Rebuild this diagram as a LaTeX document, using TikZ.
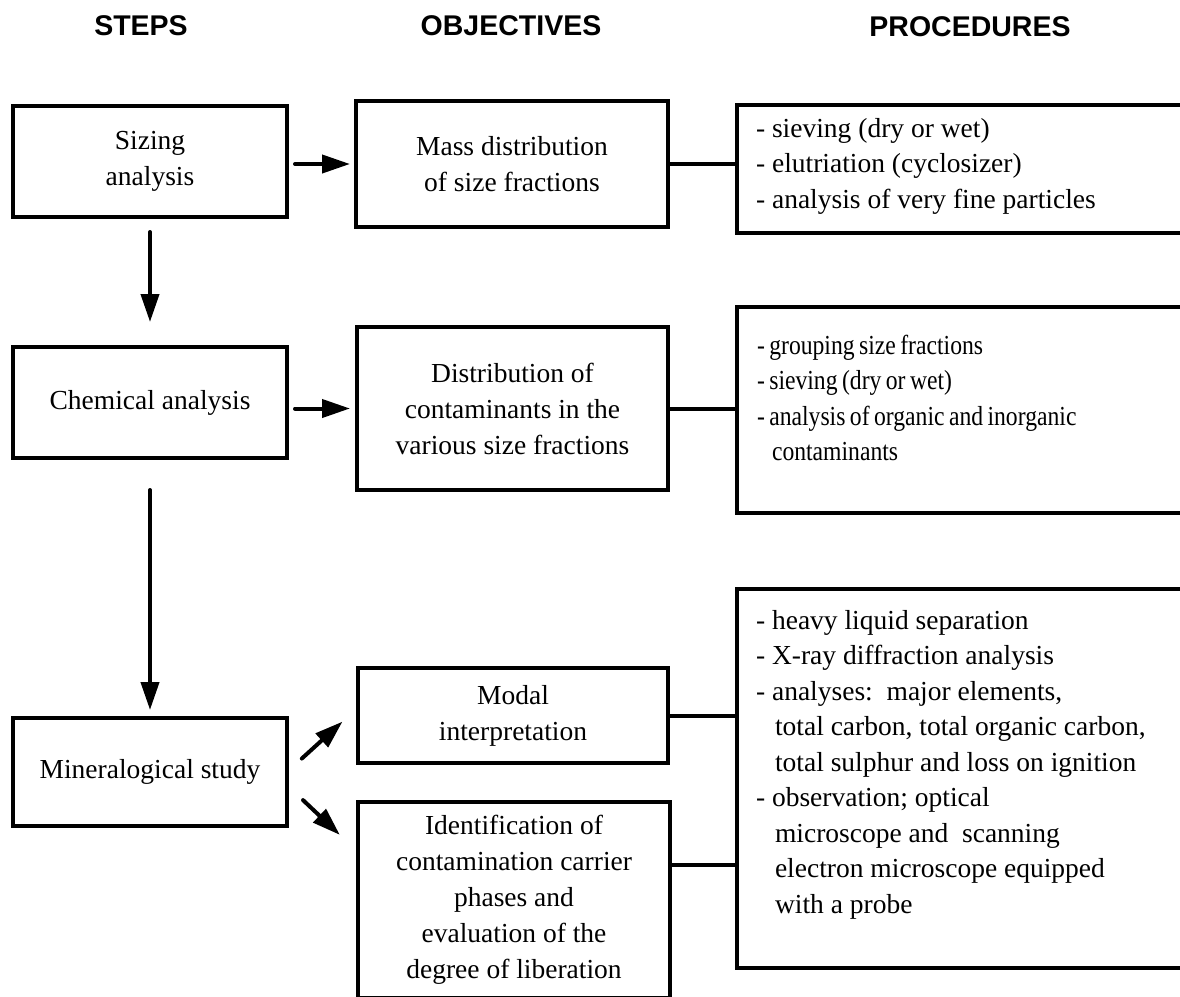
\documentclass[tikz,border=0pt]{standalone}
\usepackage{fontspec}
\setmainfont{Liberation Serif}
\newfontfamily\headfont{Liberation Sans}
\newfontfamily\narrowserif{Liberation Serif}[FakeStretch=0.86,WordSpace=0.75]
\usetikzlibrary{arrows.meta}

\newcommand\diagtext{\fontsize{27.5}{36}\selectfont}
\newcommand\listtext{\fontsize{27.5}{35.5}\selectfont}

\begin{document}
\begin{tikzpicture}[x=1pt,y=-1pt,
  every node/.style={inner sep=0pt, outer sep=0pt},
  heading/.style={font=\headfont\bfseries\fontsize{28.5}{32}\selectfont},
  frame/.style={draw, line width=4pt, align=center, font=\diagtext},
  procframe/.style={draw, line width=4pt, anchor=west, minimum width=480pt},
  proclist/.style={anchor=north west, align=left, font=\listtext},
  arr/.style={line width=4pt, line cap=round, -{Triangle[length=28pt,width=18pt]}},
  link/.style={line width=4pt}
]
\useasboundingbox (0,0) rectangle (1180,996);

% column headings
\node[heading] (hsteps) at (141,25.5) {STEPS};
\node[heading] (hobj) at (511,25.5) {OBJECTIVES};
\node[heading] (hproc) at (970,27) {PROCEDURES};

% steps
\node[frame, minimum width=274pt, minimum height=111pt] (sizing) at (150,161.5) {Sizing\\analysis};
\node[frame, minimum width=274pt, minimum height=111pt] (chem) at (150,402.5) {Chemical analysis};
\node[frame, minimum width=274pt, minimum height=108pt] (mineral) at (150,772) {Mineralogical study};

% objectives
\node[frame, minimum width=312pt, minimum height=126pt] (mass) at (512,164) {Mass distribution\\of size fractions};
\node[frame, minimum width=311pt, minimum height=163pt] (dist) at (512.5,408.5) {Distribution of\\contaminants in the\\various size fractions};
\node[frame, minimum width=310pt, minimum height=95pt] (modal) at (513,715.5) {Modal\\interpretation};
\node[frame, minimum width=312pt, minimum height=196pt] (ident) at (514,900) {Identification of\\contamination carrier\\phases and\\evaluation of the\\degree of liberation};

% procedures (boxes run off the right edge)
\node[procframe, minimum height=128pt] (proc1) at (737,169) {};
\node[procframe, minimum height=206pt] (proc2) at (737,410) {};
\node[procframe, minimum height=379pt] (proc3) at (737,778.5) {};

\node[proclist] (proc1txt) at (756,118) {- sieving (dry or wet)\\- elutriation (cyclosizer)\\- analysis of very fine particles};
\node[proclist, font=\listtext\narrowserif] (proc2txt) at (757,335) {- grouping size fractions\\- sieving (dry or wet)\\- analysis of organic and inorganic\\\hspace*{15pt}contaminants};
\node[proclist] (proc3txt) at (756,610) {- heavy liquid separation\\- X-ray diffraction analysis\\- analyses:\ \ major elements,\\\hspace*{19pt}total carbon, total organic carbon,\\\hspace*{19pt}total sulphur and loss on ignition\\- observation; optical\\\hspace*{19pt}microscope and\ \ scanning\\\hspace*{19pt}electron microscope equipped\\\hspace*{19pt}with a probe};

% arrows between steps and objectives
\draw[arr, shorten <=8pt, shorten >=6pt] (sizing.east |- mass.west) -- (mass.west);
\draw[arr, shorten <=8pt, shorten >=7pt] (chem.east |- dist.west) -- (dist.west);
\draw[arr, shorten <=20pt, shorten >=21pt] (mineral.east) -- ([yshift=8pt]modal.west);
\draw[arr, shorten <=22pt, shorten >=25pt] ([yshift=-13pt]mineral.east) -- ([yshift=48pt]ident.west);

% arrows down the steps column
\draw[arr, shorten <=15pt, shorten >=25pt] (sizing.south) -- (chem.north);
\draw[arr, shorten <=32pt, shorten >=8pt] (chem.south) -- (mineral.north);

% links from objectives to procedures
\draw[link] (mass.east) -- (mass.east -| proc1.west);
\draw[link] (dist.east) -- (dist.east -| proc2.west);
\draw[link] (modal.east) -- (modal.east -| proc3.west);
\draw[link] ([yshift=35pt]ident.east) -- ([yshift=35pt]ident.east -| proc3.west);
\end{tikzpicture}
\end{document}
